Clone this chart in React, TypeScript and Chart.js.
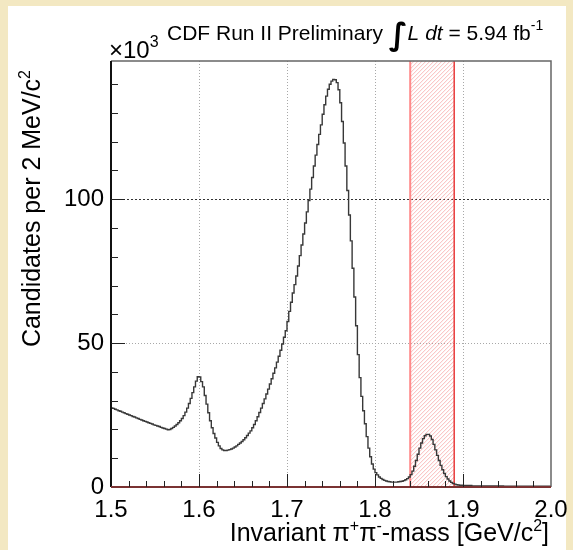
import React, { useEffect, useRef } from 'react';
import { Chart, registerables } from 'chart.js';

Chart.register(...registerables);

// Histogram: 2 MeV/c^2 bins starting at 1.500 GeV/c^2, values in units of 10^3 candidates
const binStart = 1.5;
const binWidth = 0.002;
const counts = [
  27.5, 27.3, 27.0, 26.8, 26.5, 26.3, 26.0, 25.8, 25.5, 25.3,
  25.0, 24.8, 24.5, 24.3, 24.0, 23.8, 23.5, 23.3, 23.0, 22.8,
  22.6, 22.3, 22.1, 21.9, 21.6, 21.4, 21.2, 21.0, 20.7, 20.5,
  20.3, 20.1, 19.9, 20.0, 20.3, 20.7, 21.2, 21.7, 22.3, 23.0,
  23.8, 24.8, 26.0, 27.4, 29.0, 30.8, 32.8, 34.8, 36.8, 38.3,
  38.2, 36.6, 34.8, 31.8, 28.8, 25.8, 23.0, 20.6, 18.6, 17.0,
  15.5, 14.3, 13.4, 12.9, 12.7, 12.7, 12.8, 13.0, 13.2, 13.5,
  13.9, 14.3, 14.8, 15.3, 15.8, 16.4, 17.1, 17.9, 18.7, 19.5,
  20.6, 21.7, 23.0, 24.4, 25.9, 27.4, 29.0, 30.6, 32.3, 34.0,
  35.8, 37.6, 39.5, 41.4, 43.4, 45.4, 47.5, 49.7, 52.0, 54.3,
  57.5, 61.0, 64.2, 67.4, 70.3, 73.3, 76.8, 80.4, 84.1, 87.9,
  91.7, 95.6, 99.5, 103.5, 107.5, 111.5, 115.3, 119.0, 122.5, 125.8,
  129.5, 132.8, 135.8, 138.2, 139.9, 141.0, 141.6, 141.5, 140.5, 138.0,
  133.5, 127.0, 119.5, 111.5, 103.0, 94.5, 85.5, 76.0, 66.0, 56.0,
  46.0, 38.0, 31.5, 26.5, 22.0, 17.5, 13.5, 10.5, 8.0, 6.2,
  5.0, 4.2, 3.5, 3.0, 2.6, 2.3, 2.1, 1.9, 1.8, 1.7,
  1.7, 1.7, 1.7, 1.8, 1.9, 2.0, 2.2, 2.5, 2.9, 3.5,
  4.3, 5.5, 7.2, 9.2, 11.4, 13.5, 15.3, 16.8, 17.8, 18.3,
  18.3, 17.7, 16.5, 14.8, 12.9, 11.0, 9.2, 7.5, 6.0, 4.7,
  3.6, 2.8, 2.1, 1.6, 1.2, 1.0, 0.8, 0.7, 0.6, 0.6,
  0.5, 0.5, 0.5, 0.5, 0.5, 0.4, 0.4, 0.4, 0.4, 0.4,
  0.4, 0.4, 0.4, 0.4, 0.4, 0.4, 0.4, 0.4, 0.4, 0.4,
  0.4, 0.4, 0.4, 0.3, 0.3, 0.3, 0.3, 0.3, 0.3, 0.3,
  0.3, 0.3, 0.3, 0.3, 0.3, 0.3, 0.3, 0.3, 0.3, 0.3,
  0.3, 0.3, 0.3, 0.3, 0.3, 0.3, 0.3, 0.3, 0.3, 0.3,
];

const xMin = 1.5;
const xMax = 2.0;
const yMin = 0;
const yMax = 148;
const xTicks = [1.5, 1.6, 1.7, 1.8, 1.9, 2.0];
const xTickLabels = ['1.5', '1.6', '1.7', '1.8', '1.9', '2.0'];
const xGrid = [1.6, 1.7, 1.8, 1.9];
const xMinorStep = 0.02;
const yTicks = [0, 50, 100];
const yTickLabels = ['0', '50', '100'];
const yGrid = [50, 100];
const yMinorStep = 10;
const signalWindow = [1.84, 1.89];

const FONT = '"Liberation Sans", Arial, Helvetica, sans-serif';

type Part = { t: string; size: number; italic?: boolean; bold?: boolean; family?: string; dy?: number };

function drawRich(ctx: CanvasRenderingContext2D, parts: Part[], x: number, y: number, align: 'left' | 'right' | 'center') {
  const fontOf = (p: Part) => `${p.italic ? 'italic ' : ''}${p.bold ? 'bold ' : ''}${p.size}px ${p.family || FONT}`;
  let w = 0;
  for (const p of parts) {
    ctx.font = fontOf(p);
    w += ctx.measureText(p.t).width;
  }
  let cx = align === 'left' ? x : align === 'right' ? x - w : x - w / 2;
  ctx.textAlign = 'left';
  ctx.textBaseline = 'alphabetic';
  for (const p of parts) {
    ctx.font = fontOf(p);
    ctx.fillText(p.t, cx, y + (p.dy || 0));
    cx += ctx.measureText(p.t).width;
  }
}

const decorPlugin = {
  id: 'rootStyle',
  beforeDraw(chart: any) {
    const ctx: CanvasRenderingContext2D = chart.ctx;
    ctx.save();
    ctx.fillStyle = '#f3e8c2';
    ctx.fillRect(0, 0, chart.width, chart.height);
    ctx.fillStyle = '#ffffff';
    ctx.fillRect(8, 6, 558, 544);
    ctx.restore();
  },
  beforeDatasetsDraw(chart: any) {
    const ctx: CanvasRenderingContext2D = chart.ctx;
    const { left, right, top, bottom } = chart.chartArea;
    const xs = chart.scales.x;
    const ys = chart.scales.y;
    ctx.save();
    ctx.lineWidth = 1;
    for (const v of xGrid) {
      const px = Math.round(xs.getPixelForValue(v)) + 0.5;
      ctx.strokeStyle = '#a8a8a8';
      ctx.setLineDash([1, 2]);
      ctx.beginPath();
      ctx.moveTo(px, top);
      ctx.lineTo(px, bottom);
      ctx.stroke();
    }
    for (const v of yGrid) {
      const py = Math.round(ys.getPixelForValue(v)) + 0.5;
      ctx.strokeStyle = v === 100 ? '#333333' : '#a8a8a8';
      ctx.setLineDash(v === 100 ? [2, 2] : [1, 2]);
      ctx.beginPath();
      ctx.moveTo(left, py);
      ctx.lineTo(right, py);
      ctx.stroke();
    }
    ctx.setLineDash([]);
    const x1 = xs.getPixelForValue(signalWindow[0]);
    const x2 = xs.getPixelForValue(signalWindow[1]);
    ctx.save();
    ctx.beginPath();
    ctx.rect(x1, top, x2 - x1, bottom - top);
    ctx.clip();
    ctx.strokeStyle = 'rgba(245,140,140,0.75)';
    ctx.lineWidth = 0.8;
    ctx.beginPath();
    for (let s = -(bottom - top); s < x2 - x1 + 10; s += 4) {
      ctx.moveTo(x1 + s, bottom);
      ctx.lineTo(x1 + s + (bottom - top), top);
    }
    ctx.stroke();
    ctx.restore();
    ctx.strokeStyle = '#ff8a8a';
    ctx.lineWidth = 2;
    ctx.beginPath();
    ctx.moveTo(x1, top);
    ctx.lineTo(x1, bottom);
    ctx.stroke();
    ctx.strokeStyle = '#e83a3a';
    ctx.lineWidth = 1.5;
    ctx.beginPath();
    ctx.moveTo(x2, top);
    ctx.lineTo(x2, bottom);
    ctx.stroke();
    ctx.restore();
  },
  afterDatasetsDraw(chart: any) {
    const ctx: CanvasRenderingContext2D = chart.ctx;
    const { left, right, top, bottom } = chart.chartArea;
    const xs = chart.scales.x;
    const ys = chart.scales.y;
    ctx.save();
    ctx.lineWidth = 1.5;
    ctx.strokeStyle = '#666666';
    ctx.beginPath();
    ctx.moveTo(left, top);
    ctx.lineTo(right, top);
    ctx.lineTo(right, bottom);
    ctx.stroke();
    ctx.strokeStyle = '#111111';
    ctx.lineWidth = 2;
    ctx.beginPath();
    ctx.moveTo(left, top);
    ctx.lineTo(left, bottom);
    ctx.stroke();
    ctx.strokeStyle = '#7a3232';
    ctx.lineWidth = 2;
    ctx.beginPath();
    ctx.moveTo(left, bottom);
    ctx.lineTo(right, bottom);
    ctx.stroke();
    ctx.strokeStyle = '#222222';
    ctx.lineWidth = 1;
    const nx = Math.round((xMax - xMin) / xMinorStep);
    for (let i = 1; i < nx; i++) {
      const v = xMin + i * xMinorStep;
      const major = xTicks.some((t) => Math.abs(t - v) < 1e-6);
      const px = Math.round(xs.getPixelForValue(v)) + 0.5;
      ctx.beginPath();
      ctx.moveTo(px, bottom);
      ctx.lineTo(px, bottom - (major ? 13 : 6));
      ctx.stroke();
    }
    const ny = Math.floor((yMax - yMin) / yMinorStep);
    for (let i = 1; i <= ny; i++) {
      const v = yMin + i * yMinorStep;
      const major = yTicks.includes(v);
      const py = Math.round(ys.getPixelForValue(v)) + 0.5;
      ctx.beginPath();
      ctx.moveTo(left, py);
      ctx.lineTo(left + (major ? 14 : 7), py);
      ctx.stroke();
    }
    ctx.restore();
  },
  afterDraw(chart: any) {
    const ctx: CanvasRenderingContext2D = chart.ctx;
    ctx.save();
    ctx.fillStyle = '#000000';
    drawRich(ctx, [
      { t: 'CDF Run II Preliminary ', size: 21 },
      { t: '\u222B', size: 31, bold: true, family: '"DejaVu Sans", sans-serif', dy: 5 },
      { t: 'L', size: 21, italic: true },
      { t: ' ', size: 21 },
      { t: 'dt', size: 21, italic: true },
      { t: ' = 5.94 fb', size: 21 },
      { t: '-1', size: 14, dy: -10 },
    ], 167, 40, 'left');
    drawRich(ctx, [
      { t: '\u00D710', size: 24 },
      { t: '3', size: 16, dy: -11 },
    ], 109, 58, 'left');
    drawRich(ctx, [
      { t: 'Invariant \u03C0', size: 25 },
      { t: '+', size: 16, dy: -10 },
      { t: '\u03C0', size: 25 },
      { t: '-', size: 16, dy: -10 },
      { t: '-mass [GeV/c', size: 25 },
      { t: '2', size: 16, dy: -10 },
      { t: ']', size: 25 },
    ], 549, 541, 'right');
    ctx.translate(40, 70);
    ctx.rotate(-Math.PI / 2);
    drawRich(ctx, [
      { t: 'Candidates per 2 MeV/c', size: 25 },
      { t: '2', size: 16, dy: -10 },
    ], 0, 0, 'right');
    ctx.restore();
  },
};

export default function App() {
  const canvasRef = useRef<HTMLCanvasElement | null>(null);

  useEffect(() => {
    const canvas = canvasRef.current;
    if (!canvas) return;
    const points = counts.map((c, i) => ({ x: binStart + i * binWidth, y: c }));
    points.push({ x: binStart + counts.length * binWidth, y: counts[counts.length - 1] });

    const chart = new Chart(canvas, {
      type: 'line',
      data: {
        datasets: [
          {
            data: points,
            stepped: true,
            borderColor: '#383838',
            borderWidth: 1.4,
            pointRadius: 0,
            fill: false,
          },
        ],
      },
      options: {
        responsive: false,
        animation: false,
        devicePixelRatio: 1,
        parsing: false,
        layout: { padding: { left: 0, top: 61, right: 22, bottom: 0 } },
        plugins: { legend: { display: false }, tooltip: { enabled: false }, title: { display: false } },
        scales: {
          x: {
            type: 'linear',
            min: xMin,
            max: xMax,
            grid: { display: false, drawTicks: false },
            border: { display: false },
            afterFit: (s: any) => { s.height = 63; s.paddingLeft = 0; s.paddingRight = 0; },
            afterBuildTicks: (s: any) => { s.ticks = xTicks.map((v) => ({ value: v })); },
            ticks: {
              autoSkip: false,
              maxRotation: 0,
              padding: 9,
              color: '#000',
              font: { family: FONT, size: 24 },
              callback: (_v: any, i: number) => xTickLabels[i],
            },
          },
          y: {
            type: 'linear',
            min: yMin,
            max: yMax,
            grid: { display: false, drawTicks: false },
            border: { display: false },
            afterFit: (s: any) => { s.width = 111; s.paddingTop = 0; s.paddingBottom = 0; },
            afterBuildTicks: (s: any) => { s.ticks = yTicks.map((v) => ({ value: v })); },
            ticks: {
              padding: 7,
              color: '#000',
              font: { family: FONT, size: 24 },
              callback: (_v: any, i: number) => yTickLabels[i],
            },
          },
        },
      },
      plugins: [decorPlugin],
    });
    return () => chart.destroy();
  }, []);

  return (
    <div style={{ position: 'absolute', left: 0, top: 0, width: 573, height: 550 }}>
      <canvas ref={canvasRef} width={573} height={550} style={{ display: 'block' }} />
    </div>
  );
}
